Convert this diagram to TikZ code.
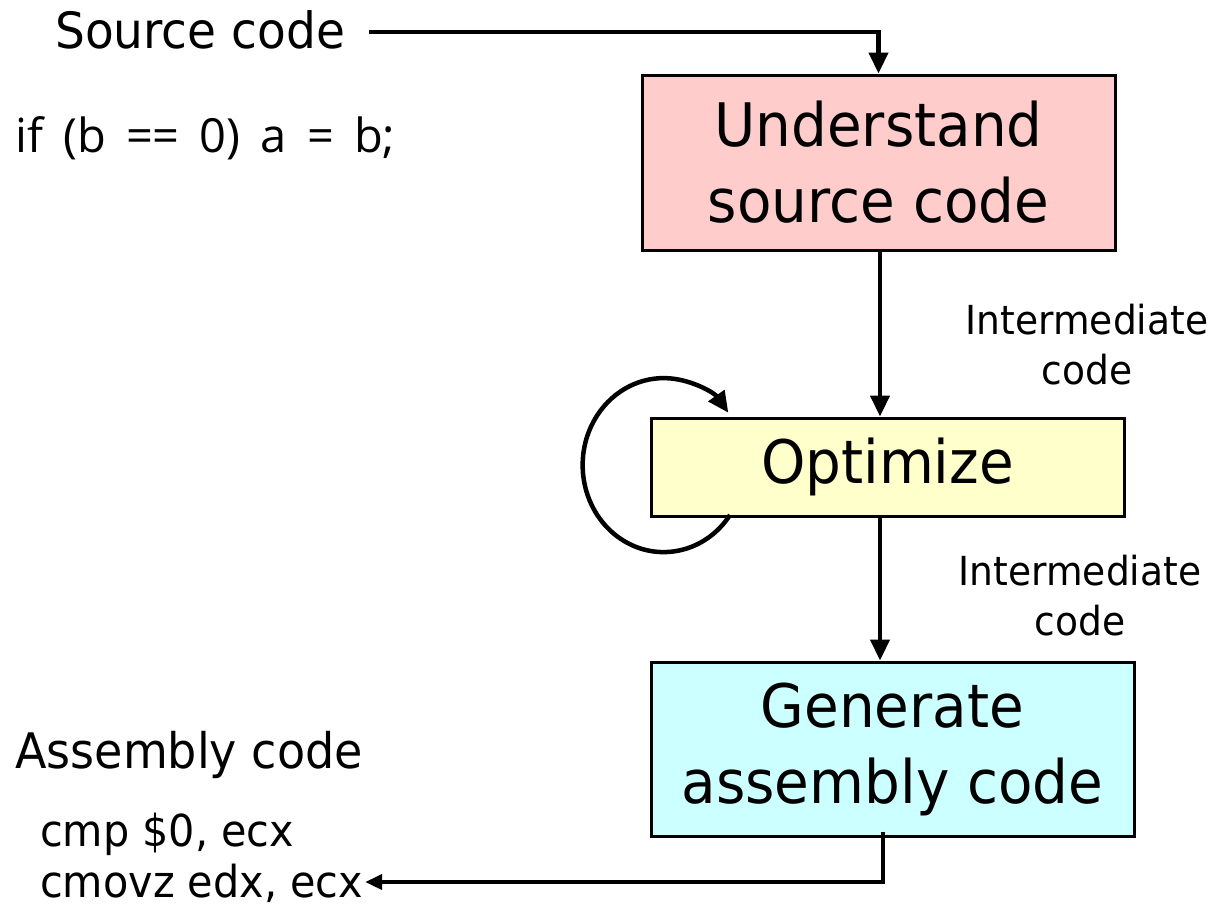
\documentclass[tikz,border=0pt]{standalone}
\usepackage{fontspec}
\setmainfont{DejaVu Sans}[FakeStretch=0.94]
\newfontfamily\codefont{Open Sans}[WordSpace=1.65]
\usetikzlibrary{arrows.meta}
\definecolor{pinkfill}{HTML}{FFCCCC}
\definecolor{yellowfill}{HTML}{FFFFCC}
\definecolor{cyanfill}{HTML}{CCFFFF}
\begin{document}
\begin{tikzpicture}[x=1pt,y=-1pt,
  box/.style={draw=black,line width=3pt,inner sep=0pt,align=center,font=\fontsize{60}{76}\selectfont},
  lbl/.style={inner sep=0pt,font=\fontsize{50}{58}\selectfont},
  asmtxt/.style={inner sep=0pt,font=\fontsize{44}{50}\selectfont},
  small/.style={inner sep=0pt,font=\fontsize{40}{50}\selectfont,align=center},
  arr/.style={line width=4.5pt,-{Triangle[length=21pt,width=19pt]}}]
\useasboundingbox (0,0) rectangle (1211,908);
\node[box,fill=pinkfill,minimum width=473pt,minimum height=175pt] (und) at (878.5,162.5) {Understand\\source code};
\node[box,fill=yellowfill,minimum width=473pt,minimum height=98pt] (opt) at (887.5,467) {Optimize};
\node[box,fill=cyanfill,minimum width=483pt,minimum height=174pt] (gen) at (892.5,749) {Generate\\assembly code};
\node[lbl,anchor=base west] (src) at (55,48) {Source code};
\node[inner sep=0pt,anchor=base west,font=\codefont\fontsize{47}{58}\selectfont] (ifl) at (15,152) {if (b == 0) a = b;};
\node[small] (im1) at (1087,345) {Intermediate\\code};
\node[small] (im2) at (1080,596) {Intermediate\\code};
\node[inner sep=0pt,font=\fontsize{49}{58}\selectfont,anchor=base west] (asm) at (15,768) {Assembly code};
\node[asmtxt,anchor=base west] (asm1) at (40,846) {cmp \$0, ecx};
\node[asmtxt,anchor=base west] (asm2) at (40,897) {cmovz edx, ecx};
\coordinate (xa) at (880,0);
\coordinate (xb) at (883,0);
\coordinate (ya) at (0,32);
\coordinate (yb) at (0,882);
\draw[arr] ([xshift=24pt]src.east |- ya) -| (und.north);
\draw[arr] (und.south -| xa) -- (opt.north -| xa);
\draw[arr] (opt.south -| xa) -- (gen.north -| xa);
\draw[line width=4.5pt,-{Triangle[length=17pt,width=15pt]}] ([yshift=6pt]gen.south -| xb) |- ([xshift=2pt]asm2.east |- yb);
\draw[arr] (730,515) arc[start angle=-35,end angle=-323,x radius=81,y radius=-87];
\end{tikzpicture}
\end{document}
